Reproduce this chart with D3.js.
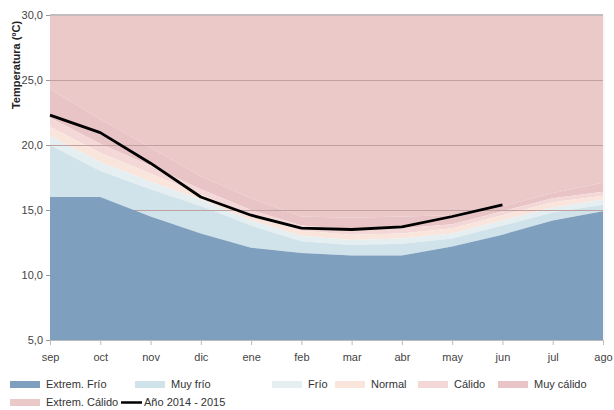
<!DOCTYPE html>
<html><head><meta charset="utf-8">
<script src="https://cdn.jsdelivr.net/npm/d3@7"></script>
<style>body{margin:0;background:#fff}svg{display:block}</style>
</head><body><svg id="c" width="614" height="410"></svg>
<script>
const months = ["sep","oct","nov","dic","ene","feb","mar","abr","may","jun","jul","ago"];
const yTicks = [5,10,15,20,25,30];
const extremFrio = [16.0,16.0,14.5,13.2,12.1,11.7,11.5,11.5,12.2,13.1,14.2,14.9];
const muyFrio    = [20.0,18.0,16.6,15.3,13.8,12.6,12.3,12.4,12.8,13.8,14.8,15.4];
const frio       = [20.7,18.7,17.2,15.8,14.2,13.0,12.7,12.8,13.2,14.2,15.2,15.8];
const normal     = [21.4,19.4,17.8,16.2,14.6,13.4,13.1,13.2,13.6,14.6,15.6,16.1];
const calido     = [22.1,20.1,18.4,16.6,15.0,13.8,13.5,13.6,13.9,14.9,15.9,16.4];
const muyCalido  = [24.3,22.0,19.8,17.6,15.9,14.5,14.4,14.5,14.6,15.3,16.3,17.1];
const anio       = [22.3,20.95,18.6,16.0,14.6,13.6,13.5,13.7,14.5,15.4];

const svg = d3.select("#c");
const x = d3.scalePoint().domain(months).range([50,603]);
const y = d3.scaleLinear().domain([5,30]).range([340,15]);
const font = "'Liberation Sans', Arial, sans-serif";

const bands = [
  {name:"Extrem. Cálido", lo: muyCalido, hi: months.map(()=>30), color:"#ecc9c9"},
  {name:"Muy cálido", lo: calido, hi: muyCalido, color:"#e9c4c6"},
  {name:"Cálido", lo: normal, hi: calido, color:"#f4d8d8"},
  {name:"Normal", lo: frio, hi: normal, color:"#f9e5db"},
  {name:"Frío", lo: muyFrio, hi: frio, color:"#e5eef1"},
  {name:"Muy frío", lo: extremFrio, hi: muyFrio, color:"#d1e3ea"}
];
const area = d3.area().x((d,i)=>x(months[i])).y0(d=>y(d[0])).y1(d=>y(d[1]));
bands.forEach(b=>{
  svg.append("path").datum(b.lo.map((v,i)=>[v,b.hi[i]])).attr("d",area).attr("fill",b.color);
});
// gridlines
svg.append("g").selectAll("line").data(yTicks.filter(t=>t>5 && t<30)).join("line")
  .attr("x1",50).attr("x2",603).attr("y1",d=>y(d)+0.5).attr("y2",d=>y(d)+0.5)
  .attr("stroke","#c1a0a0").attr("stroke-width",1);
svg.append("line").attr("x1",50).attr("x2",603).attr("y1",y(30)).attr("y2",y(30))
  .attr("stroke","#c2bcbc").attr("stroke-width",2);
svg.append("line").attr("x1",604).attr("x2",604).attr("y1",y(30)).attr("y2",y(5))
  .attr("stroke","#eeeeee").attr("stroke-width",1);
// extrem frio
svg.append("path").datum(extremFrio.map(v=>[5,v])).attr("d",area).attr("fill","#7f9fbe");
// line
svg.append("path").datum(anio).attr("fill","none").attr("stroke","#000").attr("stroke-width",2.8)
  .attr("stroke-linejoin","round")
  .attr("d",d3.line().x((d,i)=>x(months[i])).y(d=>y(d)));

// axes
const fmt = d=>d3.format(".1f")(d).replace(".",",");
const ya = svg.append("g").attr("transform","translate(50,0)")
  .call(d3.axisLeft(y).tickValues(yTicks).tickFormat(fmt).tickSize(4).tickPadding(3));
ya.select(".domain").remove();
ya.selectAll("line").attr("stroke","#999");
ya.selectAll("text").attr("font-family",font).attr("font-size",11).attr("fill","#444");

const xa = svg.append("g").attr("transform","translate(0,340)")
  .call(d3.axisBottom(x).tickSize(5).tickPadding(8));
xa.select(".domain").attr("stroke","#bbb").attr("d","M50,0.5H603");
xa.selectAll("line").attr("stroke","#bbb");
xa.selectAll("text").attr("font-family",font).attr("font-size",11).attr("fill","#444");

svg.append("text").attr("transform","translate(20,65) rotate(-90)").attr("text-anchor","middle")
  .attr("font-family",font).attr("font-size",11).attr("font-weight","bold").attr("fill","#222")
  .text("Temperatura (ºC)");

// legend
const legend = [
  {name:"Extrem. Frío", color:"#7f9fbe", x:10, y:381},
  {name:"Muy frío", color:"#d1e3ea", x:135, y:381},
  {name:"Frío", color:"#e5eef1", x:272, y:381},
  {name:"Normal", color:"#f9e5db", x:335, y:381},
  {name:"Cálido", color:"#f4d8d8", x:418, y:381},
  {name:"Muy cálido", color:"#e9c4c6", x:498, y:381},
  {name:"Extrem. Cálido", color:"#ecc9c9", x:10, y:399}
];
const lg = svg.append("g");
legend.forEach(l=>{
  lg.append("rect").attr("x",l.x).attr("y",l.y).attr("width",30).attr("height",7).attr("fill",l.color);
  lg.append("text").attr("x",l.x+36).attr("y",l.y+7).attr("font-family",font).attr("font-size",11)
    .attr("fill","#333").text(l.name);
});
lg.append("line").attr("x1",121).attr("x2",142).attr("y1",402.5).attr("y2",402.5).attr("stroke","#000").attr("stroke-width",2.5);
lg.append("text").attr("x",144).attr("y",406).attr("font-family",font).attr("font-size",11).attr("fill","#333").text("Año 2014 - 2015");
</script></body></html>
